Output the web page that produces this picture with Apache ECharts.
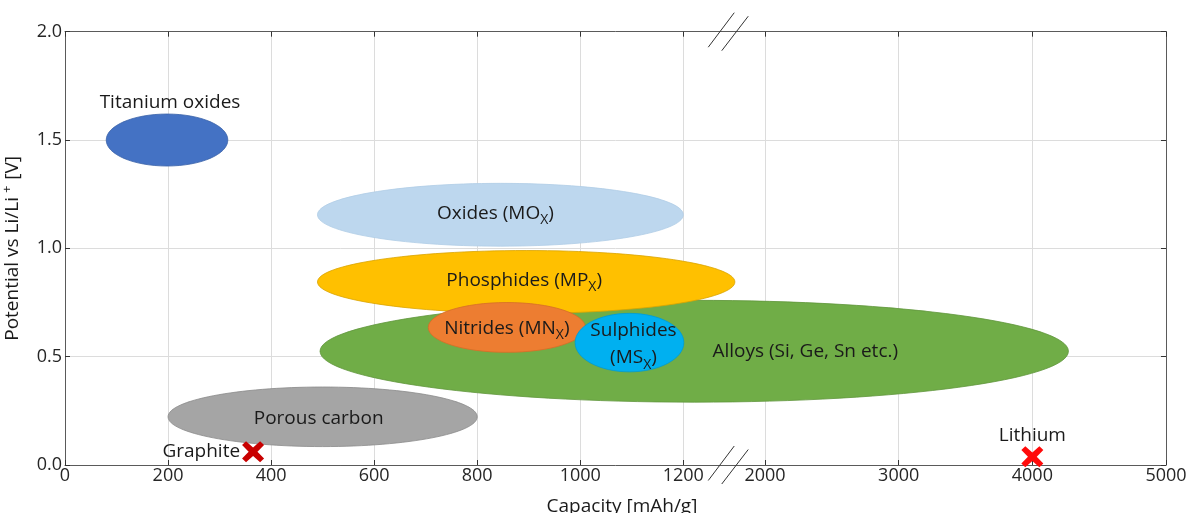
<!DOCTYPE html>
<html>
<head>
<meta charset="utf-8">
<script src="https://cdn.jsdelivr.net/npm/echarts@6/dist/echarts.min.js"></script>
<style>
html,body{margin:0;padding:0;background:#ffffff;}
#chart{width:1191px;height:513px;}
</style>
</head>
<body>
<div id="chart"></div>
<script>
// ---------------- data ----------------
const X_TICKS = [0, 200, 400, 600, 800, 1000, 1200, 2000, 3000, 4000, 5000];
const Y_MIN = 0, Y_MAX = 2.0, Y_STEP = 0.5;

// regions (ellipses): capacity range [mAh/g] and potential range [V]
const regionNames   = ['Titanium oxides', 'Porous carbon', 'Oxides (MO_X)', 'Alloys (Si, Ge, Sn etc.)', 'Phosphides (MP_X)', 'Nitrides (MN_X)', 'Sulphides\n(MS_X)'];
const capacityMin   = [80,   200,   490,  495,  490,  705,  990];
const capacityMax   = [316,  800,   1200, 4270, 1705, 1010, 1205];
const potentialMin  = [1.38, 0.085, 1.01, 0.29, 0.70, 0.52, 0.43];
const potentialMax  = [1.62, 0.36,  1.30, 0.76, 0.99, 0.75, 0.70];

// single materials (crosses)
const pointNames     = ['Graphite', 'Lithium'];
const pointCapacity  = [365, 4000];
const pointPotential = [0.061, 0.038];

// ---------------- broken capacity axis ----------------
const LEFT_END = 1200, RIGHT_START = 2000;
const U_RIGHT_START = 1358.6, RIGHT_RATIO = 0.2594;
const BREAK_AT = 1640;
function toAxis(x) {
  if (x <= LEFT_END) return x;
  if (x >= RIGHT_START) return U_RIGHT_START + (x - RIGHT_START) * RIGHT_RATIO;
  return LEFT_END + (x - LEFT_END) * (U_RIGHT_START - LEFT_END) / (RIGHT_START - LEFT_END);
}
const X_MAX_U = toAxis(X_TICKS[X_TICKS.length - 1]);
const X_TICKS_U = X_TICKS.map(toAxis);

// ---------------- styles ----------------
const FONT = "'Open Sans', 'Noto Sans', 'DejaVu Sans', sans-serif";
const TEXT = '#1a1a1a';
const REGION_STYLE = {
  'Titanium oxides':          { fill: '#4472c4', stroke: '#3a62a8' },
  'Porous carbon':            { fill: '#a5a5a5', stroke: '#8a8a8a' },
  'Oxides (MO_X)':            { fill: '#bdd7ee', stroke: '#b0cde6' },
  'Alloys (Si, Ge, Sn etc.)': { fill: '#70ad47', stroke: '#5f963b' },
  'Phosphides (MP_X)':        { fill: '#ffc000', stroke: '#d9a300' },
  'Nitrides (MN_X)':          { fill: '#ed7d31', stroke: '#d56d27' },
  'Sulphides\n(MS_X)':        { fill: '#00b0f0', stroke: '#009bd4' }
};
const LABEL_OFFSET = {
  'Porous carbon': [-4, 2],
  'Oxides (MO_X)': [-5, -1],
  'Alloys (Si, Ge, Sn etc.)': [111, 0],
  'Phosphides (MP_X)': [-2, -1],
  'Nitrides (MN_X)': [0, 1],
  'Sulphides\n(MS_X)': [4, 2]
};
const POINT_COLORS = ['#c80000', '#ff0a0a'];
const X_PATH = 'path://M18,0 L50,30 L82,0 L100,18 L70,50 L100,82 L82,100 L50,70 L18,100 L0,82 L30,50 L0,18 Z';

function richify(s) { return s.replace(/_(\w)/g, '{s|$1}'); }

const regionData = regionNames.map((n, i) => [toAxis(capacityMin[i]), toAxis(capacityMax[i]), potentialMin[i], potentialMax[i]]);

function renderRegion(params, api) {
  const i = params.dataIndex;
  const name = regionNames[i];
  const a = api.coord([api.value(0), api.value(3)]);
  const b = api.coord([api.value(1), api.value(2)]);
  const cx = (a[0] + b[0]) / 2, cy = (a[1] + b[1]) / 2;
  const rx = Math.abs(b[0] - a[0]) / 2, ry = Math.abs(b[1] - a[1]) / 2;
  const st = REGION_STYLE[name];
  const off = LABEL_OFFSET[name] || [0, 0];
  let tx = cx + off[0], ty = cy + off[1];
  if (name === 'Titanium oxides') { tx = cx + 3; ty = cy - ry - 11; }
  return {
    type: 'group',
    children: [
      { type: 'ellipse', z2: i, shape: { cx: cx, cy: cy, rx: rx, ry: ry },
        style: { fill: st.fill, stroke: st.stroke, lineWidth: 0.8 } },
      { type: 'text', z2: 100, x: tx, y: ty,
        style: { text: richify(name), fill: TEXT, fontSize: 19, fontFamily: FONT, lineHeight: 27,
                 align: 'center', verticalAlign: 'middle', textAlign: 'center', textVerticalAlign: 'middle',
                 rich: { s: { fontSize: 14, lineHeight: 14, verticalAlign: 'bottom', fontFamily: FONT, fill: TEXT } } } }
    ]
  };
}

function renderBreak(params, api) {
  const top = api.coord([api.value(0), Y_MAX]);
  const bot = api.coord([api.value(0), Y_MIN]);
  const lines = [];
  [top, bot].forEach(function (p) {
    lines.push({ type: 'line', shape: { x1: p[0] - 20, y1: p[1] + 15.5, x2: p[0] + 6, y2: p[1] - 19 }, style: { stroke: '#333', lineWidth: 1 } });
    lines.push({ type: 'line', shape: { x1: p[0] - 6.5, y1: p[1] + 19, x2: p[0] + 20, y2: p[1] - 15.5 }, style: { stroke: '#333', lineWidth: 1 } });
  });
  return { type: 'group', children: lines };
}

const axisLineStyle = { show: true, onZero: false, lineStyle: { color: '#5a5a5a', width: 1 } };
const tickStyle = { show: true, inside: true, length: 5, lineStyle: { color: '#333', width: 1 } };

const chart = echarts.init(document.getElementById('chart'), null, { renderer: 'canvas' });
chart.setOption({
  animation: false,
  backgroundColor: '#ffffff',
  grid: { left: 65, right: 25, top: 31.7, bottom: 48, containLabel: false, outerBoundsMode: 'none' },
  xAxis: [
    {
      type: 'value', position: 'bottom', min: 0, max: X_MAX_U,
      name: 'Capacity [mAh/g]', nameLocation: 'middle', nameGap: 32,
      nameTextStyle: { fontSize: 19, color: TEXT, fontFamily: FONT, padding: [0, 0, 0, 13] },
      axisLine: axisLineStyle,
      axisTick: Object.assign({ customValues: X_TICKS_U }, tickStyle),
      axisLabel: {
        customValues: X_TICKS_U, margin: 2, fontSize: 18, color: '#262626', fontFamily: FONT,
        formatter: function (v) {
          for (let i = 0; i < X_TICKS.length; i++) if (Math.abs(X_TICKS_U[i] - v) < 0.5) return String(X_TICKS[i]);
          return '';
        }
      },
      splitLine: { show: true, lineStyle: { color: '#dcdcdc', width: 1 } }
    },
    {
      type: 'value', position: 'top', min: 0, max: X_MAX_U,
      axisLine: axisLineStyle,
      axisTick: Object.assign({ customValues: X_TICKS_U }, tickStyle),
      axisLabel: { show: false },
      splitLine: { show: false }
    }
  ],
  yAxis: [
    {
      type: 'value', position: 'left', min: Y_MIN, max: Y_MAX, interval: Y_STEP,
      name: '{a|Potential vs Li/Li}{p|+}{a| [V]}', nameLocation: 'middle', nameGap: 40,
      nameTextStyle: {
        color: TEXT, fontFamily: FONT, fontSize: 19,
        rich: {
          a: { fontSize: 19, lineHeight: 24, fontFamily: FONT, color: TEXT },
          p: { fontSize: 13, lineHeight: 13, verticalAlign: 'top', fontFamily: FONT, color: TEXT, padding: [0, 1, 0, 4] }
        }
      },
      axisLine: axisLineStyle,
      axisTick: tickStyle,
      axisLabel: { margin: 3, fontSize: 18, color: '#262626', fontFamily: FONT, formatter: function (v) { return v.toFixed(1); } },
      splitLine: { show: true, lineStyle: { color: '#dcdcdc', width: 1 } }
    },
    {
      type: 'value', position: 'right', min: Y_MIN, max: Y_MAX, interval: Y_STEP,
      axisLine: axisLineStyle,
      axisTick: tickStyle,
      axisLabel: { show: false },
      splitLine: { show: false }
    }
  ],
  series: [
    {
      type: 'custom', name: 'regions', xAxisIndex: 0, yAxisIndex: 0, z: 2,
      renderItem: renderRegion,
      encode: { x: [0, 1], y: [2, 3] },
      data: regionData
    },
    {
      type: 'scatter', name: 'materials', xAxisIndex: 0, yAxisIndex: 0, z: 4,
      symbol: X_PATH, symbolSize: [22, 21],
      itemStyle: { opacity: 1 },
      label: { show: true, formatter: '{b}', fontSize: 19, color: TEXT, fontFamily: FONT, opacity: 1 },
      data: pointNames.map(function (n, i) {
        return {
          name: n,
          value: [toAxis(pointCapacity[i]), pointPotential[i]],
          itemStyle: { color: POINT_COLORS[i], opacity: 1 },
          label: i === 0 ? { position: 'left', distance: 2 } : { position: 'top', distance: 1 }
        };
      })
    },
    {
      type: 'custom', name: 'axis break', xAxisIndex: 0, yAxisIndex: 0, z: 6, clip: false, silent: true,
      renderItem: renderBreak,
      encode: { x: 0 },
      data: [[toAxis(BREAK_AT)]]
    }
  ]
});
</script>
</body>
</html>
